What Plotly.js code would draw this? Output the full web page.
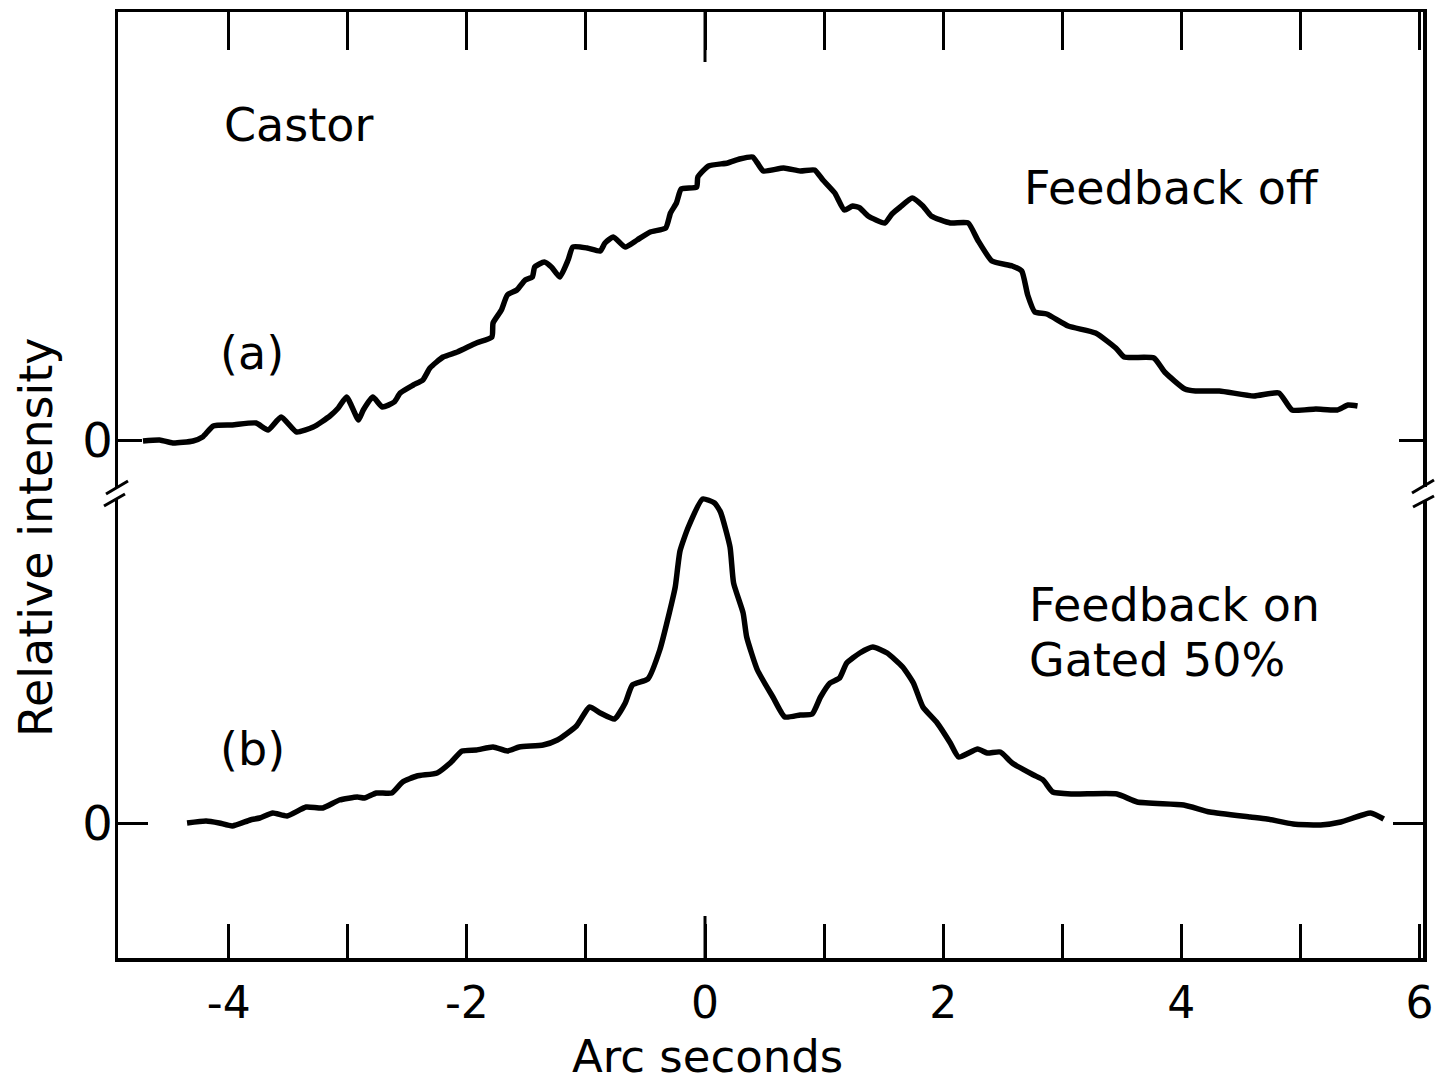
<!DOCTYPE html>
<html>
<head>
<meta charset="utf-8">
<script src="https://cdn.plot.ly/plotly-3.0.1.min.js"></script>
<style>html,body{margin:0;padding:0;background:#fff;}#chart{width:1435px;height:1085px;}</style>
</head>
<body>
<div id="chart"></div>
<script>
// Curve (a): Feedback off (arc seconds, relative intensity)
const arcA = [-4.72,-4.58,-4.47,-4.30,-4.22,-4.13,-3.97,-3.77,-3.67,-3.56,-3.43,-3.29,-3.15,-3.08,-3.01,-2.91,-2.87,-2.79,-2.71,-2.61,-2.56,-2.45,-2.37,-2.31,-2.20,-2.08,-1.92,-1.79,-1.78,-1.71,-1.66,-1.58,-1.51,-1.45,-1.43,-1.35,-1.29,-1.22,-1.15,-1.11,-0.99,-0.88,-0.84,-0.77,-0.67,-0.57,-0.46,-0.33,-0.29,-0.24,-0.20,-0.07,-0.06,0.03,0.19,0.29,0.40,0.44,0.49,0.66,0.80,0.92,0.99,1.09,1.17,1.24,1.30,1.37,1.51,1.57,1.64,1.74,1.83,1.90,2.06,2.21,2.29,2.41,2.58,2.66,2.71,2.77,2.87,3.05,3.28,3.45,3.52,3.77,3.86,4.03,4.12,4.32,4.61,4.82,4.93,5.13,5.31,5.40,5.48];
const intensityA = [-0.01,0.00,-0.03,-0.01,0.03,0.14,0.15,0.17,0.10,0.23,0.08,0.13,0.24,0.32,0.43,0.20,0.30,0.43,0.33,0.38,0.47,0.55,0.60,0.72,0.83,0.88,0.97,1.03,1.17,1.30,1.45,1.50,1.60,1.63,1.73,1.78,1.73,1.63,1.80,1.93,1.92,1.89,1.97,2.03,1.93,2.00,2.08,2.12,2.27,2.37,2.51,2.53,2.63,2.74,2.77,2.81,2.83,2.77,2.69,2.72,2.69,2.70,2.60,2.47,2.30,2.34,2.32,2.24,2.17,2.26,2.33,2.42,2.34,2.24,2.17,2.17,2.00,1.79,1.74,1.69,1.45,1.28,1.26,1.14,1.07,0.92,0.83,0.82,0.68,0.51,0.49,0.49,0.44,0.47,0.30,0.31,0.30,0.35,0.34];

// Curve (b): Feedback on, gated 50%
const arcB = [-4.35,-4.19,-4.08,-3.97,-3.82,-3.74,-3.63,-3.51,-3.35,-3.21,-3.07,-2.92,-2.86,-2.76,-2.63,-2.54,-2.42,-2.25,-2.14,-2.04,-1.92,-1.78,-1.66,-1.56,-1.36,-1.24,-1.08,-0.97,-0.88,-0.76,-0.67,-0.61,-0.48,-0.38,-0.30,-0.25,-0.21,-0.14,-0.02,0.08,0.13,0.21,0.24,0.32,0.35,0.44,0.57,0.67,0.80,0.90,0.97,1.05,1.13,1.19,1.30,1.41,1.53,1.66,1.75,1.83,1.95,2.06,2.13,2.29,2.37,2.48,2.58,2.76,2.84,2.92,3.09,3.46,3.63,4.02,4.24,4.58,4.72,4.94,5.17,5.34,5.59,5.70];
const intensityB = [0.00,0.02,0.00,-0.03,0.03,0.05,0.10,0.07,0.16,0.15,0.23,0.26,0.25,0.30,0.30,0.41,0.47,0.50,0.60,0.72,0.73,0.76,0.72,0.76,0.78,0.83,0.97,1.16,1.10,1.04,1.20,1.38,1.44,1.73,2.10,2.36,2.72,2.96,3.24,3.20,3.11,2.76,2.40,2.10,1.86,1.53,1.26,1.06,1.08,1.09,1.26,1.40,1.45,1.60,1.70,1.76,1.70,1.56,1.40,1.16,1.00,0.80,0.66,0.74,0.70,0.71,0.60,0.48,0.43,0.31,0.29,0.29,0.21,0.18,0.11,0.06,0.04,-0.01,-0.02,0.01,0.10,0.04];

const xTickVals = [-4,-3,-2,-1,0,1,2,3,4,5,6];
const xTickText = ['-4','','-2','','0','','2','','4','','6'];
const yTickVals = [0];
const yTickText = ['0'];

const FONT = 'DejaVu Sans, Liberation Sans, sans-serif';
const lineStyle = {color:'#000', width:5.5, shape:'spline', smoothing:0.5};

const traces = [
  {x:arcB, y:intensityB, xaxis:'x', yaxis:'y', type:'scatter', mode:'lines', line:lineStyle, name:'(b)'},
  {x:arcA, y:intensityA, xaxis:'x2', yaxis:'y2', type:'scatter', mode:'lines', line:lineStyle, name:'(a)'}
];

// pixel helpers for decorations (paper coordinates)
const L = 118, R = 1423, T = 12, B = 958;
const px = v => (v - L) / (R - L);
const py = v => (B - v) / (B - T);
const split = py(492);

function ann(text, x, y, extra) {
  return Object.assign({text:text, x:px(x), y:py(y), xref:'paper', yref:'paper',
    xanchor:'left', yanchor:'middle', showarrow:false,
    font:{family:FONT, size:46, color:'#000'}}, extra || {});
}

const layout = {
  width:1435, height:1085,
  margin:{l:L, r:1435-R, t:T, b:1085-B},
  paper_bgcolor:'#fff', plot_bgcolor:'#fff',
  showlegend:false, hovermode:false,
  xaxis:{anchor:'y', range:[-4.93,6.03], tickmode:'array', tickvals:xTickVals, ticktext:xTickText,
    ticks:'inside', ticklen:34, tickwidth:3, tickcolor:'#000', showline:true, linewidth:3.5, linecolor:'#000',
    showgrid:false, zeroline:false, ticklabelstandoff:4,
    tickfont:{family:FONT, size:44, color:'#000'}},
  xaxis2:{anchor:'y2', matches:'x', side:'top', tickmode:'array', tickvals:xTickVals, showticklabels:false,
    ticks:'inside', ticklen:38, tickwidth:3, tickcolor:'#000', showline:true, linewidth:3.5, linecolor:'#000',
    showgrid:false, zeroline:false},
  yaxis:{domain:[0, split], range:[-1.35, 3.31], tickmode:'array', tickvals:yTickVals, ticktext:yTickText,
    ticks:'inside', ticklen:30, tickwidth:3, tickcolor:'#000', showline:true, mirror:'ticks', linewidth:3.5, linecolor:'#000',
    showgrid:false, zeroline:false, ticklabelstandoff:-8, tickfont:{family:FONT, size:48, color:'#000'}},
  yaxis2:{domain:[split, 1], range:[-0.52, 4.28], tickmode:'array', tickvals:yTickVals, ticktext:yTickText,
    ticks:'inside', ticklen:24, tickwidth:3, tickcolor:'#000', showline:true, mirror:'ticks', linewidth:3.5, linecolor:'#000',
    showgrid:false, zeroline:false, ticklabelstandoff:-8, tickfont:{family:FONT, size:48, color:'#000'}},
  shapes:[
    // axis breaks: white gaps in the frame
    {type:'rect', xref:'paper', yref:'paper', x0:px(110), x1:px(126), y0:py(499), y1:py(487), fillcolor:'#fff', line:{width:0}, layer:'above'},
    {type:'rect', xref:'paper', yref:'paper', x0:px(1415), x1:px(1431), y0:py(501), y1:py(487), fillcolor:'#fff', line:{width:0}, layer:'above'},
    // break slashes
    {type:'line', xref:'paper', yref:'paper', x0:px(106), y0:py(494), x1:px(128), y1:py(481), line:{color:'#000', width:3}, layer:'above'},
    {type:'line', xref:'paper', yref:'paper', x0:px(104), y0:py(506), x1:px(125), y1:py(494), line:{color:'#000', width:3}, layer:'above'},
    {type:'line', xref:'paper', yref:'paper', x0:px(1412), y0:py(493), x1:px(1434), y1:py(480), line:{color:'#000', width:3}, layer:'above'},
    {type:'line', xref:'paper', yref:'paper', x0:px(1413), y0:py(507), x1:px(1434), y1:py(496), line:{color:'#000', width:3}, layer:'above'},
    // longer tick at 0 arc seconds
    {type:'line', xref:'x', x0:0, x1:0, yref:'paper', ysizemode:'pixel', yanchor:0, y0:0, y1:42, line:{color:'#000', width:3}},
    {type:'line', xref:'x2', x0:0, x1:0, yref:'paper', ysizemode:'pixel', yanchor:1, y0:0, y1:-50, line:{color:'#000', width:3}}
  ],
  annotations:[
    ann('Castor', 222, 125),
    ann('Feedback off', 1022, 188),
    ann('(a)', 218, 353),
    ann('(b)', 218, 749),
    ann('Feedback on', 1027, 605),
    ann('Gated 50%', 1027, 660),
    {text:'Arc seconds', x:px(707), y:py(1085), xref:'paper', yref:'paper', xanchor:'center', yanchor:'bottom',
      showarrow:false, font:{family:FONT, size:45, color:'#000'}},
    {text:'Relative intensity', x:px(36), y:py(537), xref:'paper', yref:'paper', xanchor:'center', yanchor:'middle',
      textangle:-90, showarrow:false, font:{family:FONT, size:46, color:'#000'}}
  ]
};

Plotly.newPlot('chart', traces, layout, {staticPlot:true, displayModeBar:false});
</script>
</body>
</html>
